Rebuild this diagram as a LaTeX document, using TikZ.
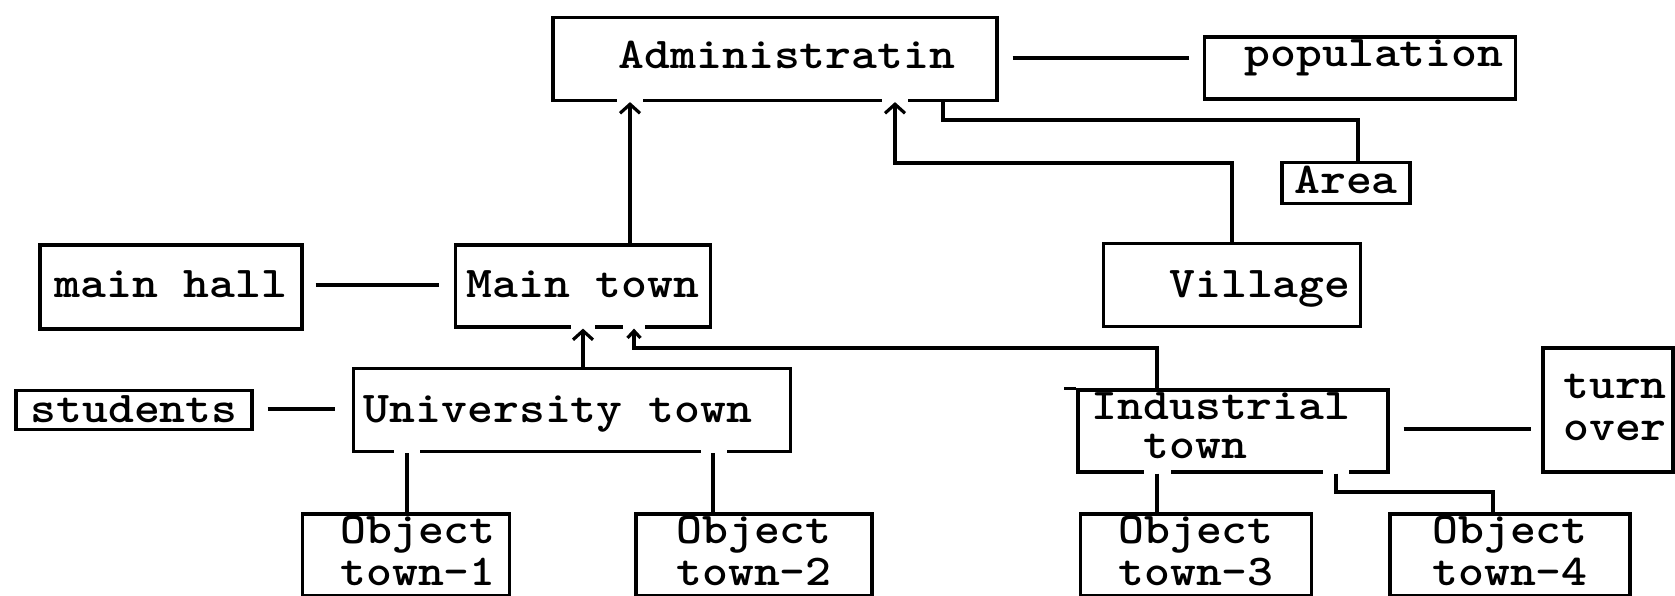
\documentclass[tikz,border=0pt]{standalone}
\usepackage{fontspec}
\usepackage{graphicx}
\usetikzlibrary{arrows.meta}
% typewriter lettering, widened a little
\newcommand\tw[1]{\scalebox{1.12}[1]{#1}}
\begin{document}
\begin{tikzpicture}[x=1pt,y=-1pt,
  box/.style={draw, line width=3.2pt, rectangle, inner sep=0pt,
    font=\ttfamily\bfseries\fontsize{44}{42}\selectfont},
  base/.style={text height=#1, text depth=0pt},
  link/.style={line width=3.2pt},
  notch/.style={white, line width=8pt},
  up/.style={link, -{Straight Barb[length=9pt,width=20pt]}},
  upsmall/.style={link, -{Straight Barb[length=7pt,width=13pt]}}]
\useasboundingbox (0,0) rectangle (1675,595);
\clip (0,0) rectangle (1675,595);

% top level
\node[box,base=18pt,minimum width=444pt,minimum height=83pt] (adm) at (775,59) {\hspace*{24pt}\tw{Administratin}};
\node[box,text height=0pt,text depth=4pt,minimum width=311pt,minimum height=62pt] (pop) at (1360,68) {\hspace*{28pt}\tw{population}};
\node[box,base=20pt,minimum width=128pt,minimum height=41pt] (area) at (1346,183) {\tw{Area}};

% second level
\node[box,base=20pt,minimum width=262pt,minimum height=84pt] (mhall) at (171,287) {\tw{main hall}};
\node[box,base=22pt,minimum width=255pt,minimum height=82pt] (mtown) at (583,286) {\tw{Main town}};
\node[box,base=24pt,minimum width=257pt,minimum height=83pt] (village) at (1232,285) {\hspace*{56pt}\tw{Village}};

% third level
\node[box,base=24pt,minimum width=236pt,minimum height=39pt] (students) at (134,410) {\tw{students}};
\node[box,base=24pt,minimum width=437pt,minimum height=83pt] (univ) at (572,410) {\tw{University town}\hspace*{28pt}};
\node[box,base=54pt,minimum width=310pt,minimum height=82pt] (ind) at (1233,431)
  {\begin{tabular}[b]{@{}l@{}}\tw{Industrial}\\[-3pt]\tw{\phantom{In}town}\end{tabular}\hspace*{24pt}};
\node[box,base=60pt,minimum width=130pt,minimum height=124pt] (turn) at (1608,410)
  {\hspace*{14pt}\begin{tabular}[b]{@{}l@{}}\tw{turn}\\\tw{over}\end{tabular}};

% bottom row
\node[box,base=60pt,minimum width=207pt,minimum height=82pt] (obj1) at (406,555)
  {\hspace*{24pt}\begin{tabular}[b]{@{}c@{}}\tw{Object}\\\tw{town-1}\end{tabular}};
\node[box,base=60pt,minimum width=236pt,minimum height=82pt] (obj2) at (754,555)
  {\begin{tabular}[b]{@{}c@{}}\tw{Object}\\\tw{town-2}\end{tabular}};
\node[box,base=60pt,minimum width=231pt,minimum height=82pt] (obj3) at (1196,555)
  {\begin{tabular}[b]{@{}c@{}}\tw{Object}\\\tw{town-3}\end{tabular}};
\node[box,base=60pt,minimum width=240pt,minimum height=82pt] (obj4) at (1510,555)
  {\begin{tabular}[b]{@{}c@{}}\tw{Object}\\\tw{town-4}\end{tabular}};

% overshoot of the top edge of the industrial box
\draw[link] (ind.north west) -- ++(-12,0);

% breaks in the box edges where the connectors meet them
\draw[notch] (adm.south -| 617,0) -- (adm.south -| 643,0);
\draw[notch] (adm.south -| 882,0) -- (adm.south -| 908,0);
\draw[notch] (mtown.south -| 571,0) -- (mtown.south -| 595,0);
\draw[notch] (mtown.south -| 623,0) -- (mtown.south -| 645,0);
\draw[notch] (univ.south -| 394,0) -- (univ.south -| 420,0);
\draw[notch] (univ.south -| 701,0) -- (univ.south -| 727,0);
\draw[notch] (ind.south -| 1144,0) -- (ind.south -| 1171,0);
\draw[notch] (ind.south -| 1323,0) -- (ind.south -| 1349,0);

% side attributes
\draw[link,shorten <=14pt,shorten >=14pt] (adm.east |- 0,58) -- (pop.west |- 0,58);
\draw[link,shorten <=12pt,shorten >=15pt] (mhall.east |- 0,285) -- (mtown.west |- 0,285);
\draw[link,shorten <=14pt,shorten >=17pt] (students.east |- 0,409) -- (univ.west |- 0,409);
\draw[link,shorten <=14pt,shorten >=10pt] (ind.east |- 0,429) -- (turn.west |- 0,429);

% links to the administration
\draw[up] (mtown.north -| 630,0) -- (adm.south -| 630,0);
\draw[up] (village.north) |- (895,163) -- (adm.south -| 895,0);
\draw[link] (area.north -| 1358,0) |- (943,120) -- (adm.south -| 943,0);

% links to the main town
\draw[up] (univ.north -| 583,0) -- (mtown.south -| 583,0);
\draw[upsmall] (ind.north -| 1157,0) |- (634,348) -- (mtown.south -| 634,0);

% object towns
\draw[link] (univ.south -| 407,0) -- (obj1.north -| 407,0);
\draw[link] (univ.south -| 713,0) -- (obj2.north -| 713,0);
\draw[link] (ind.south -| 1157,0) -- (obj3.north -| 1157,0);
\draw[link] (ind.south -| 1336,0) |- (1493,492) -- (obj4.north -| 1493,0);
\end{tikzpicture}
\end{document}
